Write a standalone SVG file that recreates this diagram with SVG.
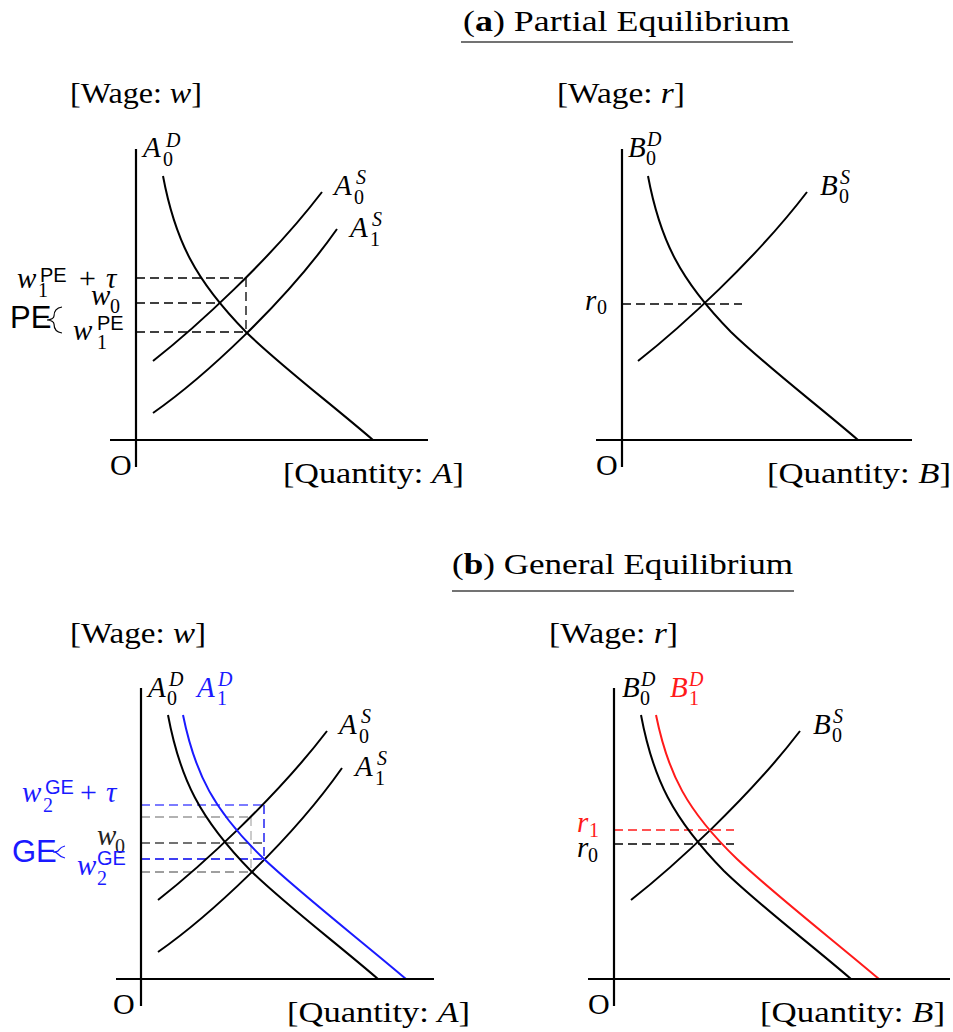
<svg xmlns="http://www.w3.org/2000/svg" width="953" height="1032" viewBox="0 0 953 1032">
<style>
.t{font-family:"Liberation Serif",serif;font-size:30px;fill:#000}
.m{font-family:"Liberation Serif",serif;font-style:italic;font-size:29px;fill:#000}
.s{font-family:"Liberation Serif",serif;font-style:italic;font-size:20px;fill:#000}
.n{font-family:"Liberation Serif",serif;font-size:20px;fill:#000}
.sf{font-family:"Liberation Sans","DejaVu Sans",sans-serif;font-size:20px;fill:#000}
.big{font-family:"Liberation Sans","DejaVu Sans",sans-serif;font-size:31px;fill:#000}
.ax{stroke:#000;stroke-width:2.2;fill:none}
.cv{stroke:#000;stroke-width:2;fill:none}
.d{stroke-width:1.3;stroke-dasharray:9 5;fill:none}
.blue{fill:#1a1aff}
.red{fill:#ff1a1a}
.ul{stroke:#444;stroke-width:1.5}
.br{fill:none;stroke-width:1.2}
</style>
<defs>
<path id="aD" d="M163,176 C175,240 195,280 246,332 C281,366 330,403 373,440"/>
<path id="aS0" d="M153,361 C195,328 270,260 322,192"/>
<path id="aS1" d="M153,413 C203,378 285,303 337,229"/>
<path id="bD1" d="M183,715 C195,774 214,811 264,859 C300,893 360,940 406,979"/>
</defs>

<g id="title-a">
<text class="t" x="463" y="31" textLength="327" lengthAdjust="spacingAndGlyphs">(<tspan font-weight="bold">a</tspan>) Partial Equilibrium</text>
<line class="ul" x1="461" y1="42" x2="793" y2="42"/>
</g>
<g id="title-b">
<text class="t" x="452" y="574" textLength="341" lengthAdjust="spacingAndGlyphs">(<tspan font-weight="bold">b</tspan>) General Equilibrium</text>
<line class="ul" x1="452" y1="591" x2="794" y2="591"/>
</g>

<!-- Panel a-left -->
<g id="panel-a-left">
<g id="a-left-dashes" stroke="#000">
<path class="d" d="M136,278 H246 M136,303 H221 M136,332 H246 M246,278 V332"/>
</g>
<g id="a-left-curves">
<use href="#aD" class="cv"/>
<use href="#aS0" class="cv"/>
<use href="#aS1" class="cv"/>
</g>
<g id="a-left-axes"><path class="ax" d="M136,149 V467 M110,440 H428"/></g>
<g id="a-left-labels">
<text class="t" x="70" y="103" textLength="132" lengthAdjust="spacingAndGlyphs">[Wage: <tspan font-style="italic">w</tspan>]</text>
<text class="t" x="283" y="483" textLength="181" lengthAdjust="spacingAndGlyphs">[Quantity: <tspan font-style="italic">A</tspan>]</text>
<text class="t" x="110" y="475">O</text>
<text class="m" x="143" y="157">A</text><text class="s" x="166" y="147">D</text><text class="n" x="163" y="166">0</text>
<text class="m" x="334" y="195">A</text><text class="s" x="356" y="184">S</text><text class="n" x="354" y="204">0</text>
<text class="m" x="350" y="237">A</text><text class="s" x="372" y="226">S</text><text class="n" x="370" y="246">1</text>
<text class="m" x="17" y="288">w</text><text class="n" x="38" y="297">1</text><text class="sf" x="40" y="282">PE</text>
<text class="t" x="79" y="288">+</text><text class="m" x="106" y="288">τ</text>
<text class="m" x="91" y="305">w</text><text class="n" x="110" y="313">0</text>
<text class="m" x="73" y="340">w</text><text class="n" x="97" y="349">1</text><text class="sf" x="97" y="330">PE</text>
<text class="big" x="10" y="328">PE</text>
<path class="br" stroke="#000" d="M62,307 C55,308 54,312 54,316 C54,318 51,320 47,320 C51,320 54,322 54,324 C54,328 55,332 62,333"/>
</g>
</g>

<!-- Panel a-right -->
<g id="panel-a-right">
<g id="a-right-dashes" stroke="#000"><path class="d" d="M622,304 H742"/></g>
<g id="a-right-curves" transform="translate(485,0)">
<use href="#aD" class="cv"/>
<use href="#aS0" class="cv"/>
</g>
<g id="a-right-axes"><path class="ax" d="M622,149 V467 M596,440 H912"/></g>
<g id="a-right-labels">
<text class="t" x="557" y="103" textLength="128" lengthAdjust="spacingAndGlyphs">[Wage: <tspan font-style="italic">r</tspan>]</text>
<text class="t" x="767" y="483" textLength="184" lengthAdjust="spacingAndGlyphs">[Quantity: <tspan font-style="italic">B</tspan>]</text>
<text class="t" x="596" y="475">O</text>
<text class="m" x="628" y="157">B</text><text class="s" x="647" y="146">D</text><text class="n" x="646" y="165">0</text>
<text class="m" x="820" y="195">B</text><text class="s" x="840" y="184">S</text><text class="n" x="839" y="203">0</text>
<text class="m" x="585" y="310">r</text><text class="n" x="597" y="314">0</text>
</g>
</g>

<!-- Panel b-left -->
<g id="panel-b-left">
<g id="b-left-dashes">
<path class="d" stroke="#999999" d="M141,817 H251"/>
<path class="d" stroke="#b0b0b0" d="M251,817 V872"/>
<path class="d" stroke="#808080" d="M141,872 H251"/>
<path class="d" stroke="#444444" d="M141,843 H263"/>
<path class="d" stroke="#5050ff" d="M141,805 H264"/>
<path class="d" stroke="#0000ee" d="M141,859 H264 M264,805 V859"/>
</g>
<g id="b-left-curves">
<g transform="translate(5,539)">
<use href="#aD" class="cv"/>
<use href="#aS0" class="cv"/>
<use href="#aS1" class="cv"/>
</g>
<use href="#bD1" class="cv" style="stroke:#1a1aff"/>
</g>
<g id="b-left-axes"><path class="ax" d="M141,688 V1006 M116,979 H434"/></g>
<g id="b-left-labels">
<text class="t" x="70" y="643" textLength="136" lengthAdjust="spacingAndGlyphs">[Wage: <tspan font-style="italic">w</tspan>]</text>
<text class="t" x="287" y="1022" textLength="183" lengthAdjust="spacingAndGlyphs">[Quantity: <tspan font-style="italic">A</tspan>]</text>
<text class="t" x="113" y="1014">O</text>
<text class="m" x="148" y="697">A</text><text class="s" x="169" y="686">D</text><text class="n" x="167" y="705">0</text>
<text class="m blue" x="197" y="697">A</text><text class="s blue" x="218" y="686">D</text><text class="n blue" x="217" y="705">1</text>
<text class="m" x="339" y="734">A</text><text class="s" x="361" y="723">S</text><text class="n" x="359" y="743">0</text>
<text class="m" x="355" y="776">A</text><text class="s" x="377" y="765">S</text><text class="n" x="375" y="785">1</text>
<text class="m blue" x="22" y="802">w</text><text class="n blue" x="43" y="812">2</text><text class="sf blue" x="45" y="794">GE</text>
<text class="t blue" x="80" y="802">+</text><text class="m blue" x="106" y="802">τ</text>
<text class="m" x="97" y="845" style="fill:#222">w</text><text class="n" x="115" y="853" style="fill:#222">0</text>
<text class="m blue" x="77" y="875">w</text><text class="n blue" x="97" y="885">2</text><text class="sf blue" x="97" y="865">GE</text>
<text class="big blue" x="12" y="862">GE</text>
<path class="br" stroke="#1a1aff" d="M65,846 C60,847 59,850 58,851 C57,852 55,852 53,852 C55,852 57,853 58,854 C59,855 60,857 65,858"/>
</g>
</g>

<!-- Panel b-right -->
<g id="panel-b-right">
<g id="b-right-dashes">
<path class="d" stroke="#ff1a1a" d="M614,830 H734"/>
<path class="d" stroke="#000" d="M614,844 H734"/>
</g>
<g id="b-right-curves">
<g transform="translate(478,539)">
<use href="#aD" class="cv"/>
<use href="#aS0" class="cv"/>
</g>
<use href="#bD1" class="cv" transform="translate(473,0)" style="stroke:#ff1a1a"/>
</g>
<g id="b-right-axes"><path class="ax" d="M614,688 V1006 M588,979 H950"/></g>
<g id="b-right-labels">
<text class="t" x="549" y="643" textLength="129" lengthAdjust="spacingAndGlyphs">[Wage: <tspan font-style="italic">r</tspan>]</text>
<text class="t" x="760" y="1022" textLength="185" lengthAdjust="spacingAndGlyphs">[Quantity: <tspan font-style="italic">B</tspan>]</text>
<text class="t" x="588" y="1014">O</text>
<text class="m" x="622" y="697">B</text><text class="s" x="641" y="686">D</text><text class="n" x="640" y="705">0</text>
<text class="m red" x="670" y="697">B</text><text class="s red" x="689" y="686">D</text><text class="n red" x="689" y="705">1</text>
<text class="m" x="813" y="734">B</text><text class="s" x="833" y="723">S</text><text class="n" x="832" y="742">0</text>
<text class="m red" x="577" y="832">r</text><text class="n red" x="589" y="837">1</text>
<text class="m" x="577" y="857">r</text><text class="n" x="588" y="862">0</text>
</g>
</g>
</svg>
